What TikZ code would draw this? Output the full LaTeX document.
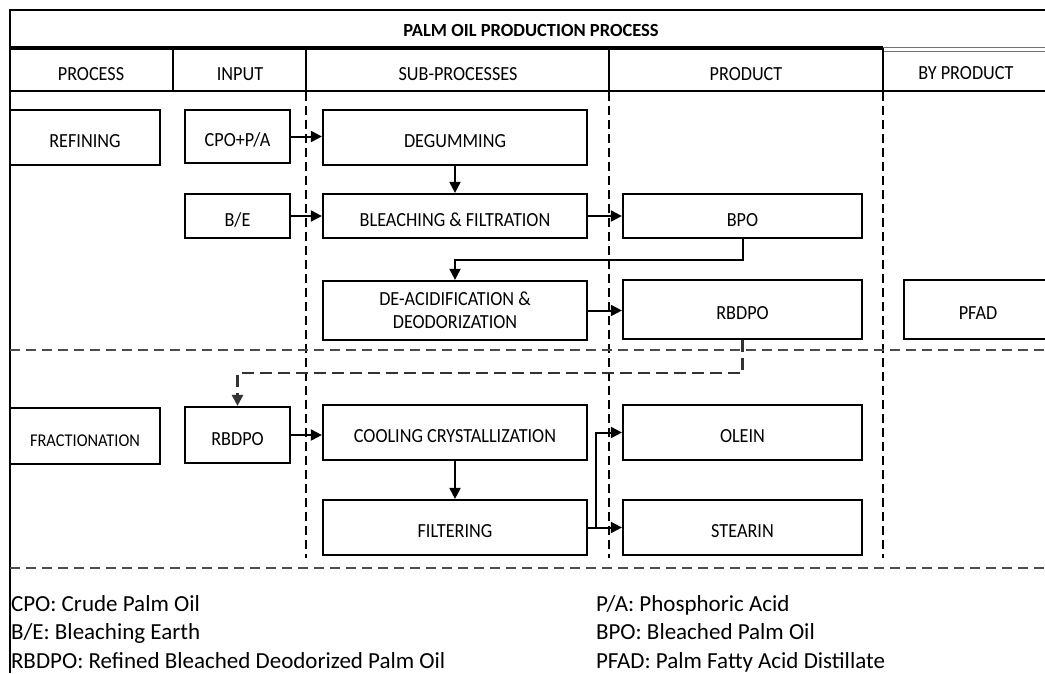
\documentclass[tikz,border=0pt]{standalone}
\usepackage{fontspec}
\setmainfont{Carlito}
\newfontfamily\boxfont{Carlito}[FakeStretch=0.91]
\usetikzlibrary{arrows.meta, positioning}
\tikzset{
  box/.style={draw, line width=2.2pt, inner sep=0pt, align=center, font=\boxfont\fontsize{20}{23}\selectfont},
  lbl/.style={text height=20pt, text depth=0pt},
  procbox/.style={box, lbl, minimum width=150pt, minimum height=55pt},
  inbox/.style={box, lbl, minimum width=105pt, minimum height=53pt},
  subbox/.style={box, lbl, minimum width=264pt, minimum height=55pt},
  prodbox/.style={box, lbl, minimum width=239pt, minimum height=55pt},
  head/.style={font=\boxfont\fontsize{20}{23}\selectfont, inner sep=0pt},
  legend/.style={font=\fontsize{23}{27}\selectfont, inner sep=0pt, anchor=base west},
  vdash/.style={line width=2pt, dash pattern=on 9pt off 5pt},
  hdash/.style={line width=2pt, black!70, dash pattern=on 10pt off 6pt}
}

\begin{document}
\begin{tikzpicture}[x=1pt, y=-1pt, >={Triangle[length=11pt, width=11pt]}, line width=2pt]
\useasboundingbox (0,0) rectangle (1045,673);
% frame and header
\draw[line width=1.5pt] (1045,10) -- (10,10) -- (10,673);
\draw[line width=3.5pt] (10,48) -- (883,48);
\draw[line width=1pt, black!55] (883,47) -- (1045,47) (883,51) -- (1045,51);
\draw (10,91) -- (1045,91);
\foreach \x in {173,306,609,883} \draw (\x,48) -- (\x,91);
\node[head, font=\bfseries\fontsize{18.5}{21}\selectfont] (title) at (531,30) {PALM OIL PRODUCTION PROCESS};
\node[head] (hproc) at (91,74) {PROCESS};
\node[head] (hin) at (240,74) {INPUT};
\node[head] (hsub) at (458,74) {SUB-PROCESSES};
\node[head] (hprod) at (746,74) {PRODUCT};
\node[head] (hby) at (966,73) {BY PRODUCT};
% dividers
\foreach \x in {306,609,883} \draw[vdash] (\x,92) -- (\x,558);
\foreach \y in {350,568} \draw[hdash] (10,\y) -- (1045,\y);
% refining
\node[procbox] (refining) at (85,137.5) {REFINING};
\node[inbox] (cpo) at (237.5,136.5) {CPO+P/A};
\node[subbox] (degum) at (455,137.5) {DEGUMMING};
\node[inbox, minimum height=44pt] (be) at (237.5,216) {B/E};
\node[subbox, minimum height=44pt] (bleach) at (455,216) {BLEACHING \& FILTRATION};
\node[prodbox, minimum height=44pt, right=33.8pt of bleach] (bpo) {BPO};
\node[box, minimum width=264pt, minimum height=59pt] (deacid) at (455,310.5) {DE-ACIDIFICATION \&\\DEODORIZATION};
\node[prodbox, minimum height=59pt] (rbdpo) at (742.5,309.5) {RBDPO};
\node[box, lbl, minimum width=148pt, minimum height=59pt, right=39.8pt of rbdpo] (pfad) {PFAD};
% fractionation
\node[procbox, minimum height=56pt, font=\boxfont\fontsize{18}{21}\selectfont] (frac) at (85,436) {FRACTIONATION};
\node[inbox, minimum height=56pt] (rbdpoin) at (237.5,435) {RBDPO};
\node[subbox] (cool) at (455,432.5) {COOLING CRYSTALLIZATION};
\node[subbox] (filt) at (455,527.5) {FILTERING};
\node[prodbox, right=33.8pt of cool] (olein) {OLEIN};
\node[prodbox, right=33.8pt of filt] (stearin) {STEARIN};
% flows
\draw[->] (cpo.east) -- (cpo.east -| degum.west);
\draw[->] (degum) -- (bleach);
\draw[->] (be) -- (bleach);
\draw[->] (bleach) -- (bpo);
\draw[->] (bpo.south) -- ++(0,21) -| (deacid.north);
\draw[->] (deacid.east) -- (deacid.east -| rbdpo.west);
\draw[->, line width=2.5pt, black!80, dash pattern=on 12pt off 6pt] (rbdpo.south) -- ++(0,33) -| (rbdpoin.north);
\draw[->] (rbdpoin.east) -- (rbdpoin.east -| cool.west);
\draw[->] (cool) -- (filt);
\draw[->] (filt) -- (stearin);
\draw[->] (filt.east) -- ++(8,0) |- (olein.west);
% legend
\node[legend] (lcpo) at (10,611) {CPO: Crude Palm Oil};
\node[legend] (lbe) at (10,639) {B/E: Bleaching Earth};
\node[legend] (lrbdpo) at (10,668) {RBDPO: Refined Bleached Deodorized Palm Oil};
\node[legend] (lpa) at (595,611) {P/A: Phosphoric Acid};
\node[legend] (lbpo) at (595,639) {BPO: Bleached Palm Oil};
\node[legend] (lpfad) at (595,668) {PFAD: Palm Fatty Acid Distillate};
\end{tikzpicture}
\end{document}
